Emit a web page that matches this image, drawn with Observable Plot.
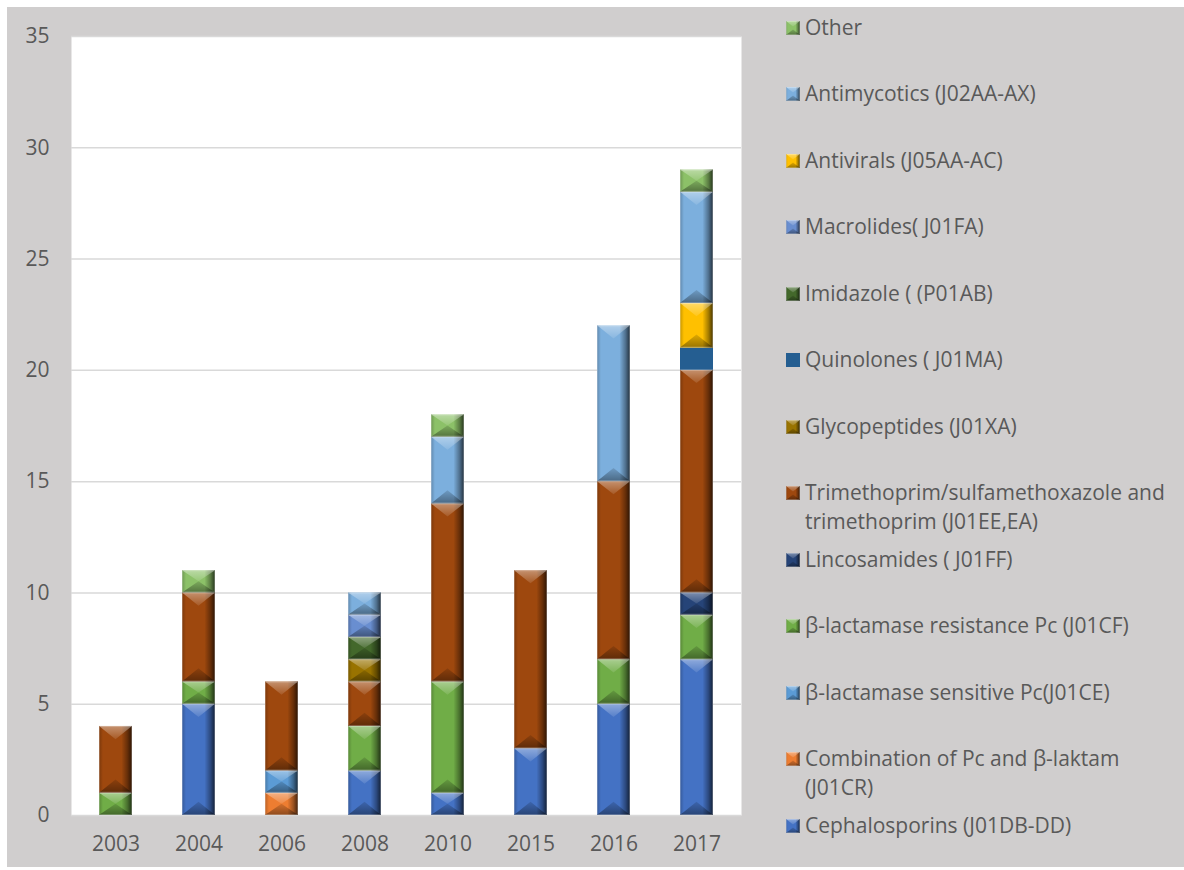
<!DOCTYPE html>
<html>
<head>
<meta charset="utf-8">
<script src="https://cdn.jsdelivr.net/npm/d3@7"></script>
<script src="https://cdn.jsdelivr.net/npm/@observablehq/plot@0.6"></script>
<style>
  body { margin: 0; background: #ffffff; }
  #wrap { position: relative; width: 1184px; height: 870px; overflow: hidden; font-family: "Open Sans", sans-serif; color: #595959; }
  #panel { position: absolute; left: 7px; top: 7px; right: 0; bottom: 3px; background: #d0cece; }
  #chart { position: absolute; left: 0; top: 0; }
  #legend { position: absolute; left: 0; top: 0; }
  .item { position: absolute; left: 786px; width: 398px; display: flex; align-items: flex-start; }
  .item svg { flex: none; margin-top: 8px; }
  .item span { margin-left: 5px; width: 378px; font-size: 21px; line-height: 29px; }
</style>
</head>
<body>
<div id="wrap">
  <div id="panel"></div>
  <div id="chart"></div>
  <div id="legend"></div>
</div>
<script>
// Categories (x axis)
const years = ["2003", "2004", "2006", "2008", "2010", "2015", "2016", "2017"];

// Series, listed from the bottom of each stack to the top
const seriesNames = [
  "Cephalosporins (J01DB-DD)",
  "Combination of Pc and β-laktam (J01CR)",
  "β-lactamase sensitive Pc(J01CE)",
  "β-lactamase resistance Pc (J01CF)",
  "Lincosamides ( J01FF)",
  "Trimethoprim/sulfamethoxazole and trimethoprim (J01EE,EA)",
  "Glycopeptides (J01XA)",
  "Quinolones ( J01MA)",
  "Imidazole ( (P01AB)",
  "Macrolides( J01FA)",
  "Antivirals (J05AA-AC)",
  "Antimycotics (J02AA-AX)",
  "Other"
];
const seriesColors = [
  "#4472c4", "#ed7d31", "#5b9bd5", "#70ad47", "#264478", "#9e480e",
  "#997300", "#255e91", "#43682b", "#698ed0", "#ffc000", "#7cafdd", "#8cc168"
];

// Counts per year for each series
const cephalosporins  = [0, 5, 0, 2, 1, 3, 5, 7];
const combinationPc   = [0, 0, 1, 0, 0, 0, 0, 0];
const betaSensitive   = [0, 0, 1, 0, 0, 0, 0, 0];
const betaResistance  = [1, 1, 0, 2, 5, 0, 2, 2];
const lincosamides    = [0, 0, 0, 0, 0, 0, 0, 1];
const trimethoprim    = [3, 4, 4, 2, 8, 8, 8, 10];
const glycopeptides   = [0, 0, 0, 1, 0, 0, 0, 0];
const quinolones      = [0, 0, 0, 0, 0, 0, 0, 1];
const imidazole       = [0, 0, 0, 1, 0, 0, 0, 0];
const macrolides      = [0, 0, 0, 1, 0, 0, 0, 0];
const antivirals      = [0, 0, 0, 0, 0, 0, 0, 2];
const antimycotics    = [0, 0, 0, 1, 3, 0, 7, 5];
const other           = [0, 1, 0, 0, 1, 0, 0, 1];

const seriesValues = [
  cephalosporins, combinationPc, betaSensitive, betaResistance, lincosamides,
  trimethoprim, glycopeptides, quinolones, imidazole, macrolides,
  antivirals, antimycotics, other
];

// Series drawn without the bevel effect
const flatSeries = ["Quinolones ( J01MA)"];

const yTicks = [0, 5, 10, 15, 20, 25, 30, 35];

const rows = seriesValues.flatMap((vals, i) =>
  vals.map((v, j) => ({year: years[j], series: seriesNames[i], value: v}))
).filter(d => d.value > 0);

const chart = Plot.plot({
  width: 1184,
  height: 870,
  marginLeft: 71,
  marginRight: 443,
  marginTop: 36,
  marginBottom: 55,
  style: {background: "transparent", fontFamily: "'Open Sans', sans-serif", fontSize: "21px", color: "#595959"},
  x: {domain: years, paddingInner: 0.6, paddingOuter: 0.3, align: 0.5, label: null},
  y: {domain: [0, 35], label: null},
  color: {domain: seriesNames, range: seriesColors},
  marks: [
    Plot.frame({fill: "white", stroke: "none"}),
    Plot.gridY(yTicks, {stroke: "#d9d9d9", strokeOpacity: 1, strokeWidth: 1.5}),
    Plot.barY(rows, {x: "year", y: "value", fill: "series", title: "series", order: seriesNames}),
    Plot.axisY(yTicks, {tickSize: 0, tickPadding: 22, fontSize: 21}),
    Plot.axisX({tickSize: 0, tickPadding: 21, fontSize: 21})
  ]
});
document.getElementById("chart").appendChild(chart);

// Shading definitions for the bevelled bars
const svg = d3.select(chart);
const defs = svg.insert("defs", ":first-child");
const hs = defs.append("linearGradient").attr("id", "hshade").attr("x1", 0).attr("x2", 1).attr("y1", 0).attr("y2", 0);
[[0, 0.22], [0.12, 0], [0.68, 0], [0.86, 0.35], [1, 0.72]].forEach(([o, a]) =>
  hs.append("stop").attr("offset", o).attr("stop-color", "#000").attr("stop-opacity", a));
const tl = defs.append("linearGradient").attr("id", "toplight").attr("x1", 0).attr("x2", 0).attr("y1", 0).attr("y2", 1);
[[0, 0.4], [1, 0.1]].forEach(([o, a]) =>
  tl.append("stop").attr("offset", o).attr("stop-color", "#fff").attr("stop-opacity", a));
const bd = defs.append("linearGradient").attr("id", "botdark").attr("x1", 0).attr("x2", 0).attr("y1", 0).attr("y2", 1);
[[0, 0.12], [1, 0.4]].forEach(([o, a]) =>
  bd.append("stop").attr("offset", o).attr("stop-color", "#000").attr("stop-opacity", a));

function bevel(parent, x, y, w, h) {
  const d = Math.min(w * 0.4, h / 2);
  const g = d3.select(parent).append("g").attr("pointer-events", "none");
  g.append("rect").attr("x", x).attr("y", y).attr("width", w).attr("height", h).attr("fill", "url(#hshade)");
  g.append("polygon").attr("points", `${x},${y} ${x + w},${y} ${x + w / 2},${y + d}`).attr("fill", "url(#toplight)");
  g.append("polygon").attr("points", `${x},${y + h} ${x + w},${y + h} ${x + w / 2},${y + h - d}`).attr("fill", "url(#botdark)");
  g.append("rect").attr("x", x + 0.5).attr("y", y + 0.5).attr("width", Math.max(0, w - 1)).attr("height", Math.max(0, h - 1))
    .attr("fill", "none").attr("stroke", "#fff").attr("stroke-opacity", 0.25).attr("stroke-width", 1);
}

svg.selectAll('g[aria-label="bar"] rect').each(function() {
  const t = this.querySelector("title");
  const name = t ? t.textContent : "";
  if (flatSeries.includes(name)) return;
  const x = +this.getAttribute("x"), y = +this.getAttribute("y");
  const w = +this.getAttribute("width"), h = +this.getAttribute("height");
  bevel(this.parentNode, x, y, w, h);
});

// Legend, top entry first
const legend = d3.select("#legend");
seriesNames.slice().reverse().forEach((name, i) => {
  const color = seriesColors[seriesNames.indexOf(name)];
  const item = legend.append("div").attr("class", "item").style("top", (27 + i * 66.5 - 14.5) + "px");
  const sw = item.append("svg").attr("width", 14).attr("height", 14);
  sw.append("rect").attr("width", 14).attr("height", 14).attr("fill", color);
  if (!flatSeries.includes(name)) bevel(sw.node(), 0, 0, 14, 14);
  item.append("span").text(name);
});
</script>
</body>
</html>
